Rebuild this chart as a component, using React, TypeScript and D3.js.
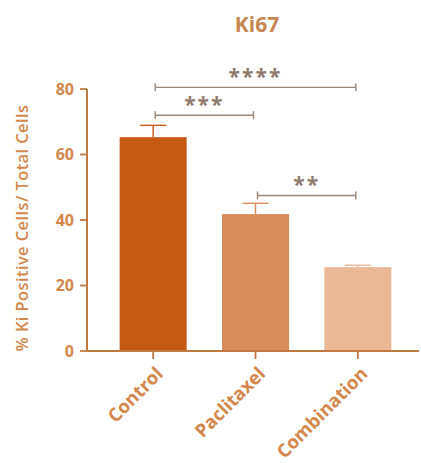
import React from "react";
import * as d3 from "d3";

// Ki67 positive cells per treatment group (mean ± SEM)
const groups = ["Control", "Paclitaxel", "Combination"];
const means = [65.3, 41.8, 25.6];
const errors = [3.6, 3.3, 0.6];
const barColors = ["#c65a12", "#d98c5b", "#ebb895"];
const yTicks = [0, 20, 40, 60, 80];

// Significance brackets: [from group, to group, label, bracket height in data units]
const sigFrom = ["Control", "Control", "Paclitaxel"];
const sigTo = ["Combination", "Paclitaxel", "Combination"];
const sigLabels = ["****", "***", "**"];
const sigLevels = [80.5, 72, 47.5];

const W = 421;
const H = 463;
const axisColor = "#c27a44";
const textColor = "#d4874c";
const bracketColor = "#9c8676";
const font = "'Open Sans', 'DejaVu Sans', sans-serif";

export default function App() {
  const x = d3
    .scaleBand<string>()
    .domain(groups)
    .range([102, 409])
    .paddingInner(0.345)
    .paddingOuter(0.1725);
  const y = d3.scaleLinear().domain([0, 80]).range([351, 89]);
  const cx = (g: string) => (x(g) as number) + x.bandwidth() / 2;
  const axisX = 87;
  const axisY = y(0);

  return (
    <svg
      width={W}
      height={H}
      style={{ position: "absolute", left: 0, top: 0, background: "#fff" }}
      fontFamily={font}
    >
      <text x={257} y={32} textAnchor="middle" fontSize={21} fontWeight={700} fill="#c88650">
        Ki67
      </text>

      {/* bars */}
      {groups.map((g, i) => (
        <rect
          key={g}
          x={x(g)}
          y={y(means[i])}
          width={x.bandwidth()}
          height={y(0) - y(means[i])}
          fill={barColors[i]}
        />
      ))}

      {/* error bars (upper only) */}
      {groups.map((g, i) => (
        <g key={"e" + g} stroke={barColors[i]} strokeWidth={1.4}>
          <line x1={cx(g)} x2={cx(g)} y1={y(means[i])} y2={y(means[i] + errors[i])} />
          <line
            x1={cx(g) - 13}
            x2={cx(g) + 13}
            y1={y(means[i] + errors[i])}
            y2={y(means[i] + errors[i])}
          />
        </g>
      ))}

      {/* y axis */}
      <line x1={axisX} x2={axisX} y1={y(80)} y2={axisY} stroke={axisColor} strokeWidth={2} />
      {yTicks.map((t) => (
        <g key={t}>
          <line x1={axisX - 7} x2={axisX} y1={y(t)} y2={y(t)} stroke={axisColor} strokeWidth={1.8} />
          <text
            x={axisX - 13}
            y={y(t)}
            dy="0.36em"
            textAnchor="end"
            fontSize={16}
            fontWeight={700}
            fill={textColor}
          >
            {t}
          </text>
        </g>
      ))}
      <text
        transform={`translate(28, ${(y(0) + y(80)) / 2 + 8}) rotate(-90)`}
        textAnchor="middle"
        fontSize={16.5}
        fontWeight={600}
        fill={textColor}
        letterSpacing={0.4}
      >
        % Ki Positive Cells/ Total Cells
      </text>

      {/* x axis */}
      <line x1={axisX} x2={W - 2} y1={axisY} y2={axisY} stroke={axisColor} strokeWidth={2} />
      {groups.map((g) => (
        <g key={"x" + g}>
          <line x1={cx(g)} x2={cx(g)} y1={axisY} y2={axisY + 8} stroke={axisColor} strokeWidth={1.8} />
          <text
            transform={`translate(${cx(g) + 11}, ${axisY + 24}) rotate(-45)`}
            textAnchor="end"
            fontSize={18.5}
            fontWeight={700}
            fill={textColor}
          >
            {g}
          </text>
        </g>
      ))}

      {/* significance brackets */}
      {sigLabels.map((lab, i) => {
        const x1 = cx(sigFrom[i]) + 2;
        const x2 = cx(sigTo[i]) - 2;
        const yy = y(sigLevels[i]);
        return (
          <g key={"s" + i}>
            <g stroke={bracketColor} strokeWidth={1.4}>
              <line x1={x1} x2={x2} y1={yy} y2={yy} />
              <line x1={x1} x2={x1} y1={yy - 4} y2={yy + 4} />
              <line x1={x2} x2={x2} y1={yy - 4} y2={yy + 4} />
            </g>
            <text
              x={(x1 + x2) / 2}
              y={yy - 3}
              textAnchor="middle"
              fontSize={21}
              fontWeight={700}
              fill="#8f7a6e"
              letterSpacing={2}
            >
              {lab}
            </text>
          </g>
        );
      })}
    </svg>
  );
}
